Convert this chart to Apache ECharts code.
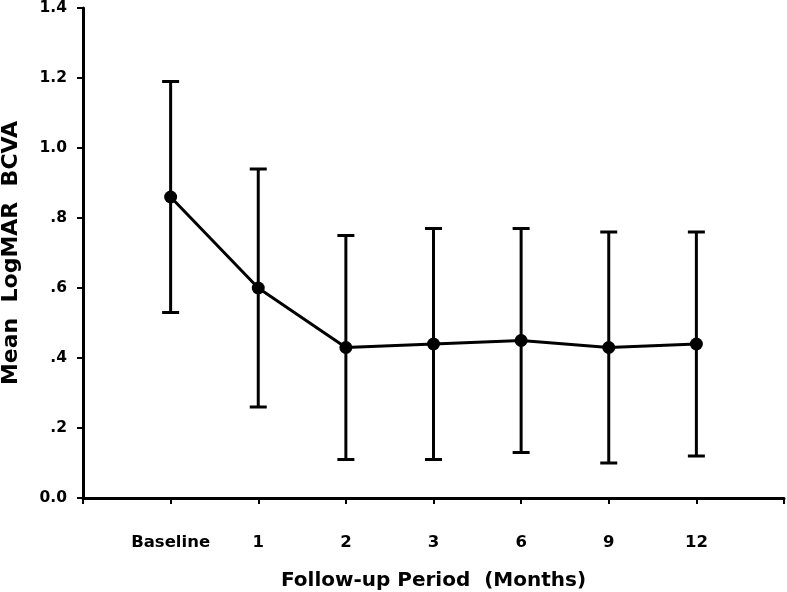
<!DOCTYPE html>
<html>
<head>
<meta charset="utf-8">
<script src="https://cdn.jsdelivr.net/npm/echarts@6/dist/echarts.min.js"></script>
<style>
html,body{margin:0;padding:0;background:#fff;}
#chart{width:787px;height:592px;}
</style>
</head>
<body>
<div id="chart"></div>
<script>
var categories = ['Baseline', '1', '2', '3', '6', '9', '12'];
var meanValues = [0.86, 0.60, 0.43, 0.44, 0.45, 0.43, 0.44];
var upperValues = [1.19, 0.94, 0.75, 0.77, 0.77, 0.76, 0.76];
var lowerValues = [0.53, 0.26, 0.11, 0.11, 0.13, 0.10, 0.12];
var yTickLabels = {'0': '0.0', '0.2': '.2', '0.4': '.4', '0.6': '.6', '0.8': '.8', '1': '1.0', '1.2': '1.2', '1.4': '1.4'};

// pad axis with empty slots at both ends
var axisCats = [''].concat(categories).concat(['']);
var lineData = [null].concat(meanValues).concat([null]);
var errData = categories.map(function (c, i) {
  return [i + 1, lowerValues[i], upperValues[i]];
});

var FONT = 'DejaVu Sans';
var chart = echarts.init(document.getElementById('chart'));
chart.setOption({
  animation: false,
  backgroundColor: '#fff',
  grid: {left: 83, right: 3, top: 8, bottom: 94, containLabel: false, outerBoundsMode: 'none'},
  xAxis: {
    type: 'category',
    data: axisCats,
    boundaryGap: false,
    name: 'Follow-up Period  (Months)',
    nameLocation: 'middle',
    nameGap: 73,
    nameTextStyle: {fontFamily: FONT, fontWeight: 'bold', fontSize: 20, color: '#000'},
    axisLine: {lineStyle: {color: '#000', width: 3}},
    axisTick: {show: true, length: 6, alignWithLabel: true, interval: 0, lineStyle: {color: '#000', width: 2}},
    axisLabel: {interval: 0, margin: 36, fontFamily: FONT, fontWeight: 'bold', fontSize: 16.5, color: '#000'},
    splitLine: {show: false}
  },
  yAxis: {
    type: 'value',
    min: 0, max: 1.4, interval: 0.2,
    name: 'Mean  LogMAR  BCVA',
    nameLocation: 'middle',
    nameGap: 61,
    nameTextStyle: {fontFamily: FONT, fontWeight: 'bold', fontSize: 22, color: '#000'},
    axisLine: {show: true, lineStyle: {color: '#000', width: 3}},
    axisTick: {show: true, length: 6, lineStyle: {color: '#000', width: 2}},
    axisLabel: {
      margin: 16, fontFamily: FONT, fontWeight: 'bold', fontSize: 15.5, color: '#000',
      formatter: function (v) { var k = String(Math.round(v * 10) / 10); return yTickLabels[k] !== undefined ? yTickLabels[k] : k; }
    },
    splitLine: {show: false}
  },
  series: [
    {
      type: 'custom',
      data: errData,
      z: 2,
      renderItem: function (params, api) {
        var x = api.value(0);
        var lo = api.coord([x, api.value(1)]);
        var hi = api.coord([x, api.value(2)]);
        var hw = 8.5;
        var st = {stroke: '#000', lineWidth: 3, fill: null};
        return {
          type: 'group',
          children: [
            {type: 'line', shape: {x1: lo[0], y1: lo[1], x2: hi[0], y2: hi[1]}, style: st},
            {type: 'line', shape: {x1: hi[0] - hw, y1: hi[1], x2: hi[0] + hw, y2: hi[1]}, style: st},
            {type: 'line', shape: {x1: lo[0] - hw, y1: lo[1], x2: lo[0] + hw, y2: lo[1]}, style: st}
          ]
        };
      },
      encode: {x: 0, y: [1, 2]}
    },
    {
      type: 'line',
      data: lineData,
      z: 3,
      symbol: 'circle',
      symbolSize: 13,
      showSymbol: true,
      connectNulls: false,
      lineStyle: {color: '#000', width: 3},
      itemStyle: {color: '#000', borderWidth: 0}
    }
  ]
});
</script>
</body>
</html>
